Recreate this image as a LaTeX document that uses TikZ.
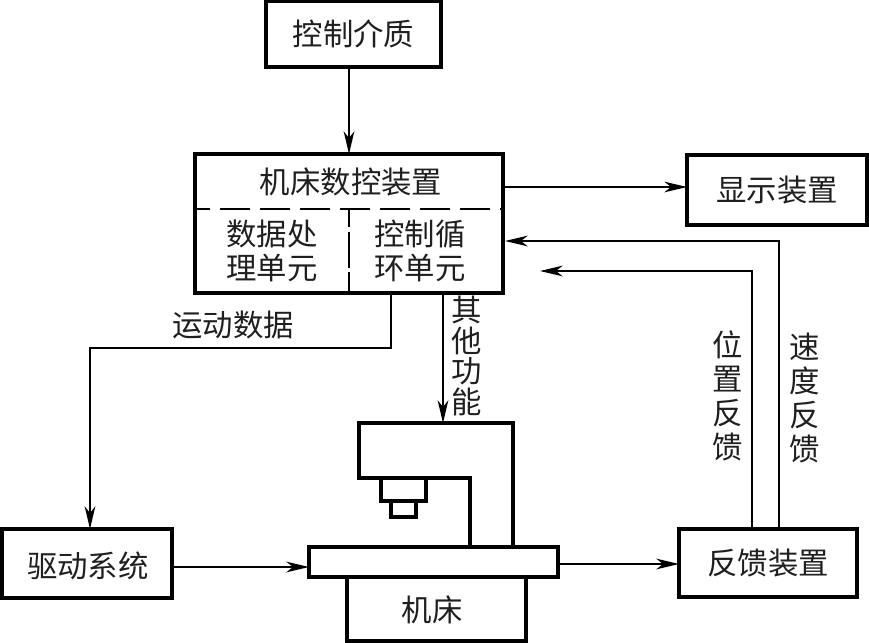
\documentclass[tikz,border=0pt]{standalone}
\usepackage{fontspec}
\setmainfont{Noto Sans CJK SC}
\usetikzlibrary{arrows.meta}
\tikzset{
  x=0.75pt,y=-0.75pt,
  label text/.style={font=\fontsize{22.8pt}{23pt}\selectfont,inner sep=0pt,outer sep=0pt,align=center,text=black!88},
  wide lines/.style={font=\fontsize{22.8pt}{25.5pt}\selectfont},
  heavy box/.style={draw=black,line width=3pt,inner sep=0pt,outer sep=0pt,anchor=north west,label text},
  link/.style={draw=black,line width=1.3pt,-{Stealth[length=17pt,width=8pt,inset=5pt]}},
  split/.style={draw=black,line width=1.5pt},
  frame/.style={draw=black,line width=3pt,line join=miter}
}
% A box placed by its corner coordinates: name, x0, y0, x1, y1, text
\newcommand{\cornerbox}[6]{%
  \pgfmathsetmacro{\bw}{(#4-#2)*0.75}%
  \pgfmathsetmacro{\bh}{(#5-#3)*0.75}%
  \node[heavy box,minimum width=\bw pt,minimum height=\bh pt] (#1) at (#2,#3) {#6};%
}
\begin{document}
\begin{tikzpicture}
\useasboundingbox (0,0) rectangle (869,643);

% Upper blocks
\cornerbox{medium}{266}{1}{441}{67}{控制介质}
\cornerbox{cnc}{195}{154}{503}{293}{}
\cornerbox{display}{687}{155}{867}{225}{显示装置}
\cornerbox{feedback}{679}{529}{857}{597}{反馈装置}
\cornerbox{drive}{2}{529}{172}{598}{}
\node[label text] (drivelabel) at (88,566) {驱动系统};

% Internal division of the CNC unit
\coordinate (hsplit) at (195,209);
\coordinate (vsplit) at (349,209);
\draw[split,dash pattern=on 22.5pt off 7.5pt,dash phase=11.25pt] (hsplit) -- (hsplit -| cnc.east);
\draw[split,dash pattern=on 27pt off 3.5pt,dash phase=13.5pt] (vsplit) -- (vsplit |- cnc.south);
\node[label text] (cnctitle) at (351,182) {机床数控装置};
\node[label text,wide lines] (dataunit) at (272,251) {数据处\\理单元};
\node[label text,wide lines] (loopunit) at (420,251) {控制循\\环单元};

% Machine tool: column, spindle, tool, table and base
\draw[frame,fill=white] (359,478) -- (359,423) -- (513,423) -- (513,547) -- (470,547) -- (470,478) -- cycle;
\coordinate (columntop) at (443,423);
\cornerbox{spindle}{381}{478}{426}{501}{}
\cornerbox{tool}{391}{501}{416}{517}{}
\cornerbox{base}{347}{577}{526}{641}{}
\node[label text] (baselabel) at (432,610) {机床};
\cornerbox{bed}{309}{547}{558}{577}{}

% Free ends of the connectors
\coordinate (speedin) at (505,241);
\coordinate (speedturn) at (779,241);
\coordinate (posturn) at (752,271);
\coordinate (posend) at (540,271);
\coordinate (motionout) at (391,293);
\coordinate (motionturn) at (391,348);
\coordinate (motionleft) at (90,348);
\coordinate (otherout) at (443,293);
\coordinate (displayout) at (503,187);
\coordinate (drivein) at (90,529);
\coordinate (driveout) at (172,567);
\coordinate (bedin) at (309,567);
\coordinate (bedout) at (558,564);
\coordinate (feedin) at (679,564);

% Connectors
\draw[link] (cnc.north |- medium.south) -- (cnc.north);
\draw[link,line width=0.8pt] (displayout) -- (display.west |- displayout);
\draw[link] (speedturn |- feedback.north) -- (speedturn) -- (speedin);
\draw[link] (posturn |- feedback.north) -- (posturn) -- (posend);
\draw[link] (motionout) -- (motionturn) -- (motionleft) -- (drivein);
\draw[link] (otherout) -- (columntop);
\draw[link] (driveout) -- (bedin);
\draw[link] (bedout) -- (feedin);

% Connector labels
\node[label text] (motionlabel) at (233,325) {运动数据};
\node[label text] (otherlabel) at (467,356) {其\\他\\功\\能};
\node[label text,wide lines] (poslabel) at (728,396) {位\\置\\反\\馈};
\node[label text,wide lines] (speedlabel) at (805,398) {速\\度\\反\\馈};
\end{tikzpicture}
\end{document}
